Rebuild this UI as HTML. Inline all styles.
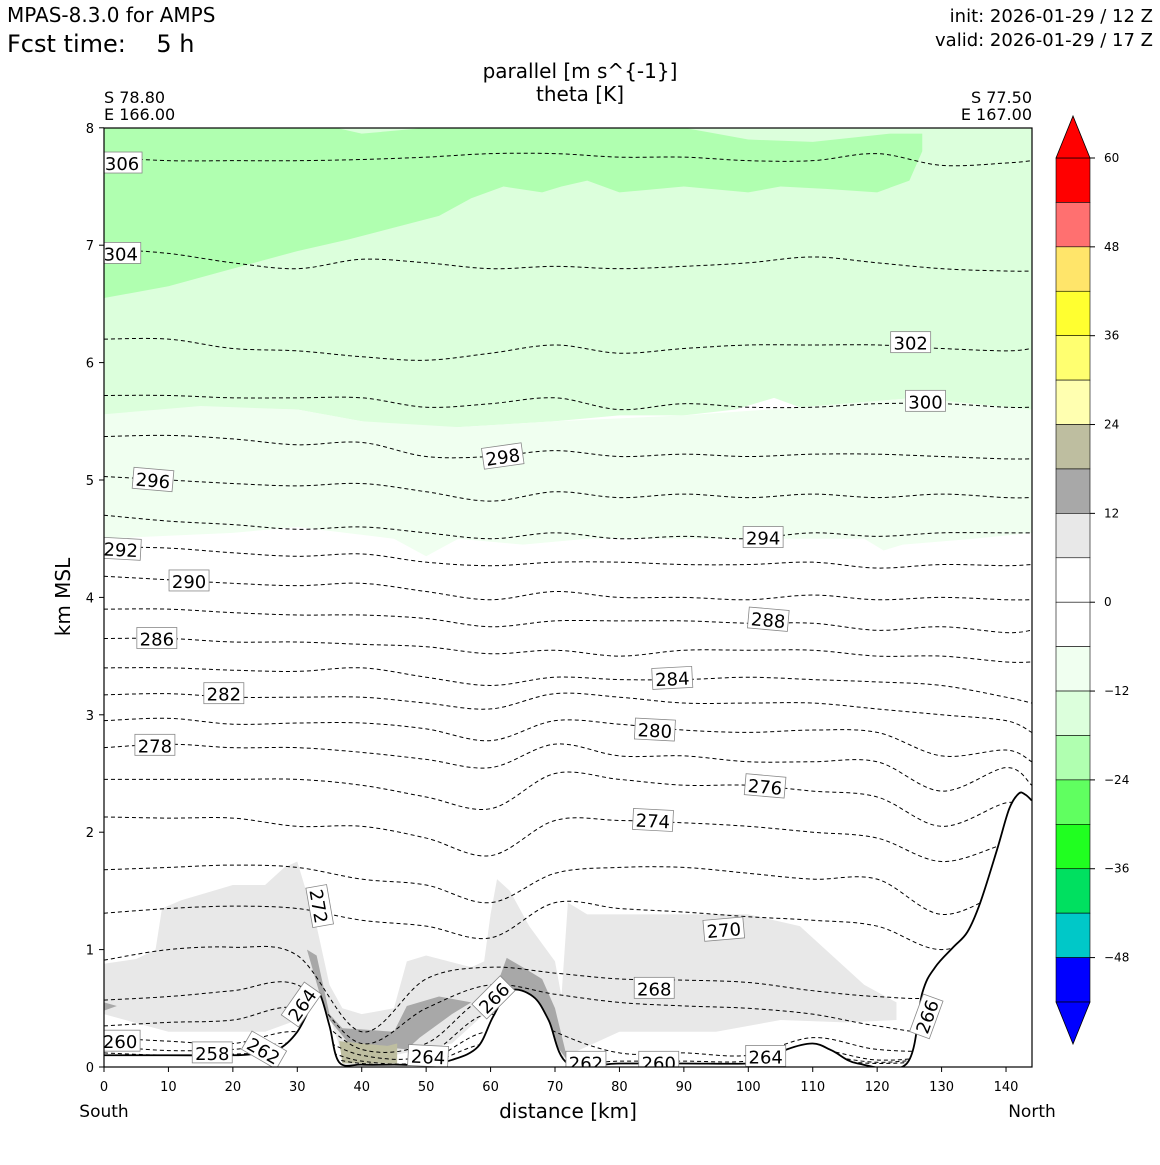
<!DOCTYPE html>
<html><head><meta charset="utf-8">
<style>
body{margin:0;background:#fff;}
svg text{font-family:"DejaVu Sans","Liberation Sans",sans-serif;white-space:pre;}
</style></head>
<body>
<svg id="chart" width="1160" height="1160" xmlns="http://www.w3.org/2000/svg">
<text x="7" y="22" font-size="20">MPAS-8.3.0 for AMPS</text>
<text x="7" y="52" font-size="24" xml:space="preserve">Fcst time:    5 h</text>
<text x="1153" y="22" font-size="18" text-anchor="end">init: 2026-01-29 / 12 Z</text>
<text x="1153" y="46" font-size="18" text-anchor="end">valid: 2026-01-29 / 17 Z</text>
<text x="580" y="78" font-size="20" text-anchor="middle">parallel [m s^{-1}]</text>
<text x="580" y="101" font-size="20" text-anchor="middle">theta [K]</text>
<text x="104" y="103" font-size="16">S 78.80</text>
<text x="104" y="120" font-size="16">E 166.00</text>
<text x="1032" y="103" font-size="16" text-anchor="end">S 77.50</text>
<text x="1032" y="120" font-size="16" text-anchor="end">E 167.00</text>
<defs><clipPath id="pc"><rect x="104" y="128" width="928" height="939"/></clipPath></defs>
<g id="plot" clip-path="url(#pc)"></g>
<rect x="104" y="128" width="928" height="939" fill="none" stroke="#000" stroke-width="1.2"/>
<g id="axes"></g>
<text x="568" y="1118" font-size="20" text-anchor="middle">distance [km]</text>
<text x="104" y="1117" font-size="17" text-anchor="middle">South</text>
<text x="1032" y="1117" font-size="17" text-anchor="middle">North</text>
<text transform="translate(70,597) rotate(-90)" font-size="20" text-anchor="middle">km MSL</text>
<g id="cbar"></g>
</svg>
<script>
const xGrid=[0,10,20,30,40,50,60,70,80,90,100,110,120,130,140,144];
const thetaLevels=[306,304,302,300,298,296,294,292,290,288,286,284,282,280,278,276,274,272,270,268,266,264,262,260,258];
const thetaHeights=[
[7.75,7.72,7.72,7.72,7.73,7.75,7.78,7.78,7.75,7.75,7.72,7.72,7.78,7.68,7.7,7.72],
[6.97,6.93,6.85,6.8,6.88,6.85,6.8,6.82,6.8,6.82,6.85,6.9,6.85,6.8,6.78,6.78],
[6.2,6.2,6.12,6.1,6.05,6.02,6.08,6.15,6.08,6.12,6.15,6.15,6.15,6.12,6.1,6.12],
[5.72,5.72,5.7,5.7,5.7,5.62,5.65,5.7,5.6,5.65,5.62,5.62,5.65,5.65,5.62,5.62],
[5.37,5.38,5.35,5.3,5.32,5.2,5.2,5.25,5.2,5.22,5.2,5.22,5.22,5.2,5.18,5.18],
[5.03,5.0,4.97,4.95,4.97,4.9,4.82,4.9,4.85,4.88,4.85,4.88,4.85,4.88,4.85,4.85],
[4.7,4.65,4.62,4.58,4.6,4.55,4.5,4.55,4.5,4.52,4.5,4.55,4.52,4.55,4.55,4.55],
[4.43,4.42,4.38,4.35,4.37,4.3,4.27,4.3,4.3,4.28,4.28,4.3,4.25,4.28,4.27,4.28],
[4.18,4.15,4.12,4.1,4.12,4.05,3.98,4.05,4.0,4.0,3.98,4.02,3.98,4.0,3.98,3.98],
[3.9,3.9,3.87,3.85,3.85,3.82,3.75,3.8,3.8,3.8,3.78,3.78,3.72,3.75,3.7,3.72],
[3.65,3.65,3.62,3.62,3.6,3.58,3.52,3.55,3.5,3.55,3.55,3.55,3.5,3.5,3.45,3.45],
[3.4,3.4,3.38,3.37,3.4,3.32,3.25,3.32,3.3,3.3,3.32,3.3,3.28,3.25,3.15,3.1],
[3.17,3.18,3.15,3.15,3.15,3.1,3.05,3.18,3.15,3.1,3.1,3.1,3.05,3.0,2.95,2.85],
[2.95,2.97,2.92,2.93,2.93,2.88,2.78,2.95,2.92,2.87,2.85,2.87,2.85,2.65,2.7,2.6],
[2.72,2.75,2.72,2.72,2.68,2.62,2.55,2.75,2.65,2.65,2.6,2.6,2.6,2.35,2.55,2.4],
[2.45,2.45,2.45,2.45,2.4,2.3,2.2,2.5,2.45,2.4,2.4,2.35,2.3,2.05,2.25,2.2],
[2.13,2.12,2.12,2.05,2.05,1.95,1.8,2.1,2.1,2.08,2.05,2.0,1.95,1.75,1.9,1.9],
[1.68,1.7,1.72,1.7,1.6,1.55,1.4,1.65,1.7,1.7,1.65,1.6,1.6,1.3,1.5,1.5],
[1.31,1.35,1.37,1.35,1.25,1.2,1.1,1.4,1.35,1.32,1.28,1.25,1.2,1.0,1.2,1.2],
[0.91,1.0,1.02,0.95,0.3,0.75,0.85,0.8,0.75,0.74,0.72,0.65,0.6,0.6,0.8,0.8],
[0.57,0.6,0.65,0.7,0.2,0.5,0.7,0.62,0.55,0.52,0.5,0.45,0.35,0.3,0.5,0.5],
[0.35,0.38,0.4,0.5,0.15,0.2,0.6,0.3,0.12,0.12,0.1,0.25,0.15,0.15,0.3,0.3],
[0.25,0.22,0.2,0.3,0.1,0.1,0.45,0.05,0.05,0.05,0.05,0.15,0.06,0.1,0.2,0.2],
[0.18,0.14,0.15,0.2,0.05,0.05,0.3,0.02,0.03,0.03,0.03,0.1,0.04,0.08,0.1,0.1],
[0.12,0.1,0.11,0.12,0.03,0.03,0.2,0.02,0.02,0.02,0.02,0.06,0.03,0.05,0.05,0.05]];
const terrainX=[0,10,20,23,27,30,32.4,33.5,35,36.5,40,45,50,54,58,60.4,63,66.6,69,72,80,90,100,103,106,110,113,117,124.6,127,129,131.8,134,136,138.6,140.5,142,143,144];
const terrainH=[0.1,0.1,0.1,0.11,0.15,0.3,0.55,0.62,0.35,0.04,0.02,0.02,0.02,0.06,0.17,0.43,0.65,0.6,0.4,0.03,0.03,0.03,0.03,0.06,0.15,0.2,0.14,0.03,0.03,0.63,0.85,1.02,1.15,1.4,1.85,2.2,2.33,2.32,2.27];
const labelValues=[306,304,302,300,298,296,294,292,290,288,286,284,282,280,278,276,274,272,270,268,266,264,264,266,264,262,262,260,258,260];
const labelX=[2.8,2.6,125.2,127.5,61.9,7.6,102.3,2.6,13.2,103.1,8.2,88.2,18.6,85.5,7.9,102.6,85.2,33.4,96.2,85.4,60.5,30.7,50.3,127.7,102.7,24.8,74.8,86.1,16.8,2.5];
const labelY=[7.7,6.93,6.17,5.67,5.2,5.0,4.51,4.41,4.14,3.81,3.65,3.31,3.18,2.87,2.74,2.39,2.1,1.37,1.17,0.67,0.59,0.53,0.09,0.43,0.09,0.14,0.04,0.04,0.12,0.22];
const labelRot=[0,0,0,0,-8,5,0,3,0,5,0,-3,0,3,0,5,3,80,-5,0,-45,-55,3,-70,0,30,0,0,0,0];
const xTicks=[0,10,20,30,40,50,60,70,80,90,100,110,120,130,140];
const yTicks=[0,1,2,3,4,5,6,7,8];
const cbarLevels=[60,54,48,42,36,30,24,18,12,6,0,-6,-12,-18,-24,-30,-36,-42,-48,-54];
const cbarColors=["#ff0000","#ff7070","#ffe56a","#ffff30","#ffff70","#ffffb0","#bebea0","#a8a8a8","#e8e8e8","#ffffff","#ffffff","#f0fff0","#dcffdc","#b0ffb0","#60ff60","#20ff20","#00e060","#00c8c8","#0000ff"];
const cbarTicks=[60,48,36,24,12,0,-12,-24,-36,-48];

const NS="http://www.w3.org/2000/svg";
const X=k=>104+k*6.443, Y=h=>1067-h*117.4;
const CY=v=>158+(60-v)*(844/114);
function mk(tag,attrs,parent){const e=document.createElementNS(NS,tag);for(const a in attrs)e.setAttribute(a,attrs[a]);parent.appendChild(e);return e;}
function smooth(pts){let d=`M${pts[0][0]},${pts[0][1]}`;for(let i=0;i<pts.length-1;i++){const p0=pts[Math.max(0,i-1)],p1=pts[i],p2=pts[i+1],p3=pts[Math.min(pts.length-1,i+2)];const c1=[p1[0]+(p2[0]-p0[0])/6,p1[1]+(p2[1]-p0[1])/6],c2=[p2[0]-(p3[0]-p1[0])/6,p2[1]-(p3[1]-p1[1])/6];d+=`C${c1[0]},${c1[1]} ${c2[0]},${c2[1]} ${p2[0]},${p2[1]}`;}return d;}
function poly(list){return list.map((p,i)=>(i?"L":"M")+X(p[0])+","+Y(p[1])).join("")+"Z";}
const plot=document.getElementById('plot');
const shades=[
 ["shade-light-green","#dcffdc",[[0,8],[144,8],[144,5.6],[130,5.6],[126,5.7],[115,5.65],[108,5.62],[104,5.7],[98,5.6],[90,5.55],[80,5.55],[70,5.5],[55,5.45],[47,5.45],[40,5.5],[30,5.6],[15,5.62],[0,5.55]]],
 ["shade-very-light-green","#f0fff0",[[0,5.56],[15,5.63],[30,5.6],[40,5.5],[55,5.45],[70,5.5],[90,5.55],[108,5.62],[126,5.7],[144,5.6],[144,4.55],[135,4.5],[124,4.45],[121,4.4],[118,4.5],[100,4.5],[90,4.5],[75,4.5],[65,4.45],[55,4.5],[50,4.35],[45,4.5],[30,4.6],[20,4.55],[0,4.5]]],
 ["shade-green","#b0ffb0",[[0,8],[36,8],[40,7.95],[50,8],[90,8],[95,7.95],[100,7.9],[110,7.88],[122,7.95],[127,7.95],[127,7.8],[125,7.55],[120,7.45],[112,7.48],[105,7.5],[100,7.45],[90,7.5],[80,7.45],[75,7.55],[71,7.5],[68,7.45],[62,7.5],[57,7.4],[52,7.25],[45,7.15],[38,7.05],[30,6.95],[20,6.8],[10,6.65],[0,6.55]]],
 ["shade-grey-left","#e8e8e8",[[0,0.88],[5,0.92],[8,1.0],[9,1.35],[12,1.42],[20,1.55],[25,1.55],[28,1.7],[30,1.75],[33,1.2],[35,0.7],[37,0.5],[40,0.45],[45,0.5],[47,0.9],[50,0.95],[57,0.85],[59,0.9],[60,1.3],[61,1.6],[63,1.5],[66,1.2],[70,0.9],[71,0.6],[72,1.4],[75,1.3],[90,1.3],[100,1.3],[108,1.2],[113,0.95],[118,0.7],[123,0.55],[123,0.4],[115,0.38],[105,0.4],[95,0.3],[80,0.3],[72,0.1],[71,0.05],[69,0.5],[60,0.5],[54,0.2],[45,0.1],[37,0.1],[34,0.6],[30,0.4],[25,0.3],[15,0.3],[10,0.3],[0,0.45]]],
 ["shade-dark-grey","#a8a8a8",[[31.5,1.0],[33,0.95],[35,0.45],[37,0.33],[40,0.32],[45,0.3],[47,0.52],[52,0.6],[57,0.55],[54,0.45],[49,0.25],[47,0.15],[38,0.2],[35,0.4],[33.5,0.62]]],
 ["shade-dark-grey-hill","#a8a8a8",[[61,0.7],[62.5,0.93],[65,0.85],[68,0.75],[70,0.5],[72,0.05],[70,0.2],[67,0.55],[63,0.62]]],
 ["shade-tan","#bebea0",[[36.5,0.22],[40,0.2],[44,0.18],[45.5,0.2],[45.5,0.03],[37,0.03]]],
 ["shade-dark-grey-left","#a8a8a8",[[0,0.55],[2,0.52],[0,0.48]]]
];
for(const s of shades){const p=mk('path',{d:poly(s[2]),fill:s[1]},plot);

}
thetaLevels.forEach((lv,i)=>{const pts=xGrid.map((x,j)=>[X(x),Y(thetaHeights[i][j])]);
const p=mk('path',{d:smooth(pts),fill:'none',stroke:'#000','stroke-width':1,'stroke-dasharray':'4,3'},plot);

});
const tp=terrainX.map((x,i)=>[X(x),Y(terrainH[i])]);
const tfill=mk('path',{d:smooth(tp)+`L${X(144)},${Y(-0.2)}L${X(0)},${Y(-0.2)}Z`,fill:'#fff'},plot);


const tl=mk('path',{d:smooth(tp),fill:'none',stroke:'#000','stroke-width':1.8},plot);


labelValues.forEach((v,i)=>{const g=mk('g',{transform:`translate(${X(labelX[i])},${Y(labelY[i])}) rotate(${labelRot[i]})`},plot);


mk('rect',{x:-20,y:-11,width:40,height:21,fill:'#fff',stroke:'#888','stroke-width':0.8},g);
const t=mk('text',{x:0,y:7,'font-size':18,'text-anchor':'middle'},g);t.textContent=v;});
const ax=document.getElementById('axes');
xTicks.forEach(v=>{mk('line',{x1:X(v),x2:X(v),y1:1067,y2:1072,stroke:'#000'},ax);
const t=mk('text',{x:X(v),y:1091,'font-size':13,'text-anchor':'middle'},ax);t.textContent=v;

});
yTicks.forEach(v=>{mk('line',{x1:99,x2:104,y1:Y(v),y2:Y(v),stroke:'#000'},ax);
const t=mk('text',{x:94,y:Y(v)+5,'font-size':13,'text-anchor':'end'},ax);t.textContent=v;

});
const cb=document.getElementById('cbar');
cbarColors.forEach((c,i)=>{const top=CY(cbarLevels[i]);const bot=CY(cbarLevels[i]-6);
const r=mk('rect',{x:1056,y:top,width:34,height:bot-top,fill:c,stroke:'#000','stroke-width':0.6},cb);

});
const tri1=mk('path',{d:`M1056,${CY(60)}L1073,116L1090,${CY(60)}Z`,fill:'#ff0000',stroke:'#000','stroke-width':0.8},cb);


const tri2=mk('path',{d:`M1056,${CY(-54)}L1073,1044L1090,${CY(-54)}Z`,fill:'#0000ff',stroke:'#000','stroke-width':0.8},cb);


cbarTicks.forEach(v=>{mk('line',{x1:1090,x2:1095,y1:CY(v),y2:CY(v),stroke:'#000'},cb);
const t=mk('text',{x:1104,y:CY(v)+4,'font-size':12},cb);t.textContent=v<0?'\u2212'+(-v):v;

});
</script>
</body></html>
